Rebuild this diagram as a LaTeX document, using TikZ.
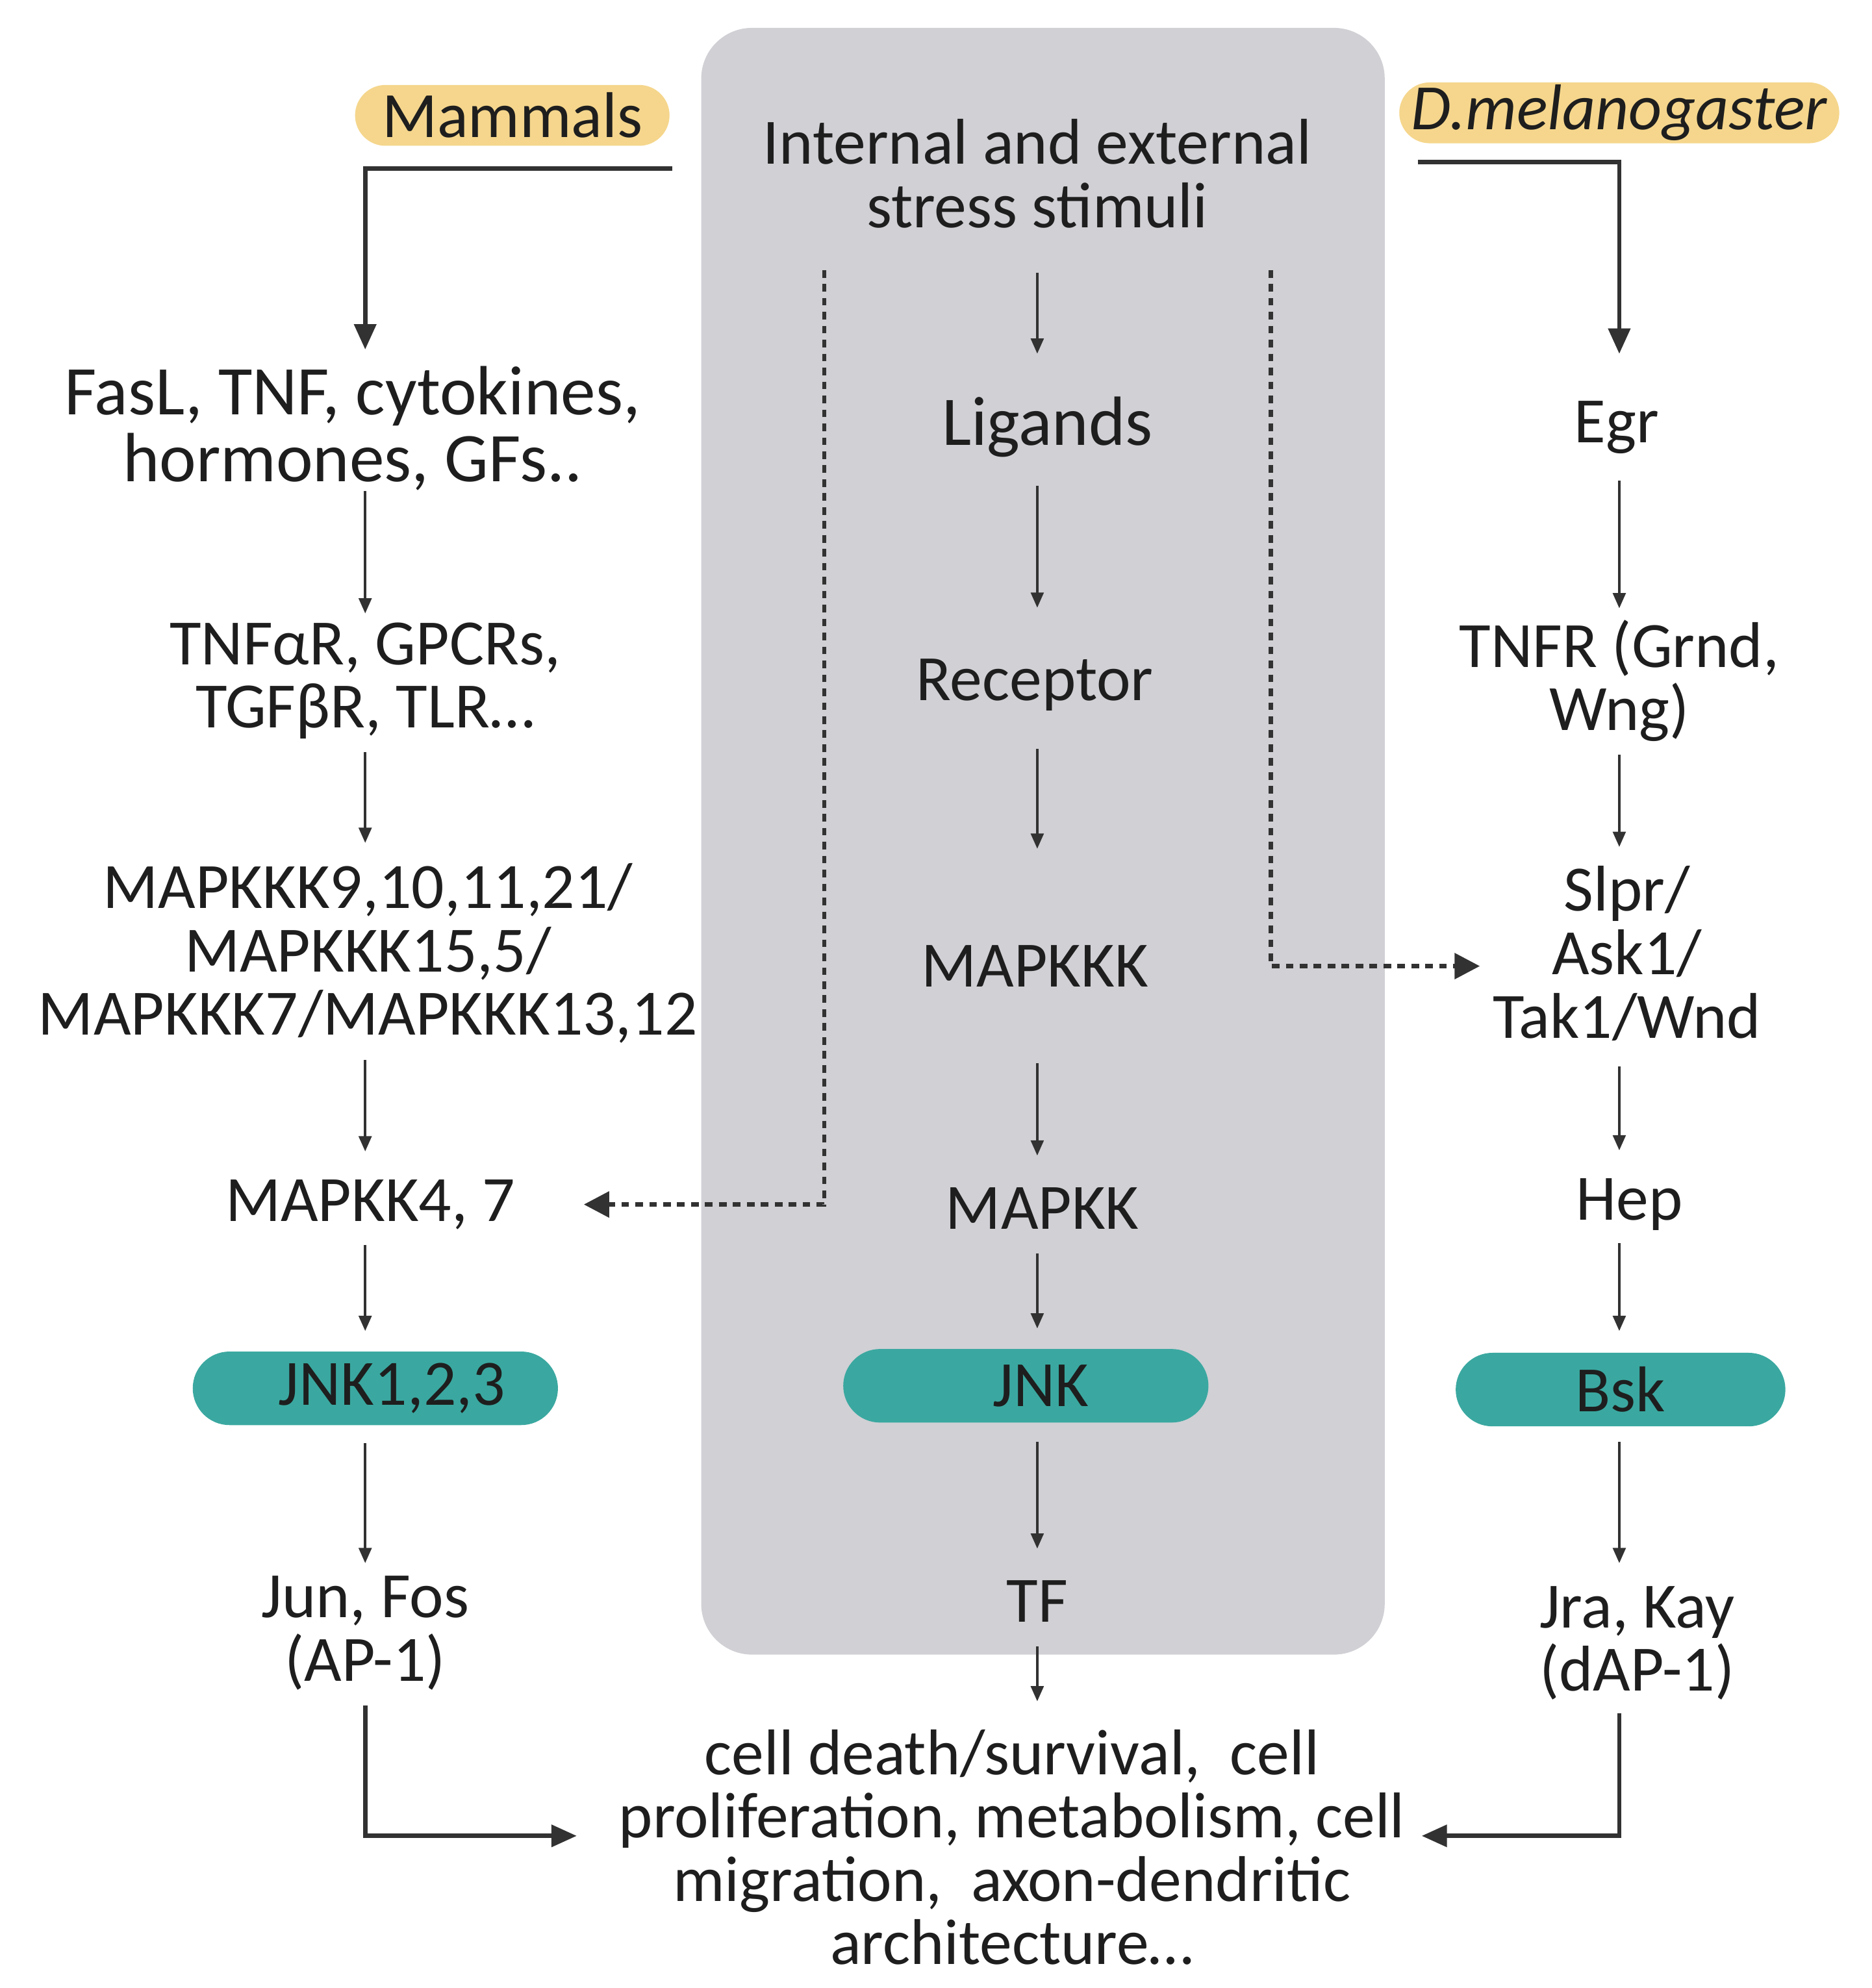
\documentclass[tikz,border=0pt]{standalone}
\usepackage{fontspec}
\setmainfont{Carlito}
\usetikzlibrary{arrows.meta,calc}
\definecolor{panelgray}{RGB}{208,208,213}
\definecolor{taggold}{RGB}{245,214,140}
\definecolor{pillteal}{RGB}{58,168,160}
\definecolor{inkblack}{RGB}{30,30,30}
\definecolor{linegray}{RGB}{50,50,50}
\newcommand{\bigtxt}{\fontsize{51}{50}\selectfont}
\newcommand{\hugetxt}{\fontsize{55}{53}\selectfont}

\begin{document}
\begin{tikzpicture}[x=1pt,y=-1pt]
	\tikzset{txt/.style={font=\bigtxt, align=center, inner sep=0pt, text=inkblack}}
	\tikzset{pill/.style={txt, fill=pillteal, rounded corners=29pt, minimum width=288pt, minimum height=58pt}}
	\tikzset{tag/.style={txt, fill=taggold, rounded corners=24pt, minimum height=48pt}}
	\tikzset{arr/.style={draw=linegray, line width=2pt, -{Triangle[length=12pt,width=10pt]}}}
	\tikzset{elbow/.style={draw=linegray, line width=3.5pt, -{Triangle[length=20pt,width=17pt]}}}
	\tikzset{dotarr/.style={draw=linegray, line width=3.5pt, dash pattern=on 6pt off 5pt, -{Triangle[length=20pt,width=20pt]}}}
	\tikzset{gp/.style 2 args={shorten <=#1pt, shorten >=#2pt}}
	\useasboundingbox (0,0) rectangle (1476,1568);
	% grey middle panel
	\fill[panelgray, rounded corners=40pt] (553,22) rectangle (1092,1305);
	% headers
	\node[tag, minimum width=248pt] (mammals) at (404,91) {Mammals};
	\node[tag, minimum width=347pt, font=\bigtxt\itshape] (dmel) at (1277,89) {D.melanogaster};
	% mammals column
	\node[txt, font=\hugetxt] (fasl) at (278,338) {FasL, TNF, cytokines,\\hormones, GFs..};
	\node[txt] (tnfar) at (288,537) {TNFαR, GPCRs,\\TGFβR, TLR…};
	\node[txt] (mkkk9) at (290,752) {MAPKKK9,10,11,21/\\MAPKKK15,5/\\MAPKKK7/MAPKKK13,12};
	\node[txt] (mkk47) at (292,950) {MAPKK4, 7};
	\node[pill] (jnk123) at (296,1095) {\hspace*{26pt}JNK1,2,3};
	\node[txt] (jun) at (288,1288) {Jun, Fos\\(AP-1)};
	% general column
	\node[txt] (stim) at (818,137) {Internal and external\\stress stimuli};
	\node[txt, font=\hugetxt] (ligands) at (826,337) {Ligands};
	\node[txt] (receptor) at (816,540) {Receptor};
	\node[txt] (mkkk) at (816,762) {MAPKKK};
	\node[txt] (mkk) at (822,953) {MAPKK};
	\node[pill] (jnk) at (809,1093) {\hspace*{24pt}JNK};
	\node[txt] (tf) at (818,1263) {TF};
	\node[txt] (outcome) at (798,1457) {cell death/survival,~ cell\\proliferation, metabolism, cell\\migration,~ axon-dendritic\\architecture…};
	% fly column
	\node[txt] (egr) at (1275,337) {Egr};
	\node[txt] (tnfr) at (1277,537) {TNFR (Grnd,\\Wng)};
	\node[txt] (slpr) at (1283,752) {Slpr/\\Ask1/\\Tak1/Wnd};
	\node[txt] (hep) at (1285,950) {Hep};
	\node[pill, minimum width=260pt] (bsk) at (1278,1096) {Bsk};
	\node[txt] (jra) at (1291,1296) {Jra, Kay\\(dAP-1)};
	% arrows
	\draw[arr, gp={0}{7}] (fasl.south -| tnfar) -- (tnfar);
	\draw[arr, gp={10}{16}] (tnfar) -- (tnfar |- mkkk9.north);
	\draw[arr, gp={13}{22}] (mkkk9.south -| tnfar) -- (tnfar |- mkk47.north);
	\draw[arr, gp={12}{16}] (mkk47.south -| tnfar) -- (jnk123.north -| tnfar);
	\draw[arr, gp={14}{10}] (jnk123.south -| tnfar) -- (jun);
	\draw[arr, gp={35}{34}] (stim) -- (stim |- ligands.north);
	\draw[arr, gp={22}{40}] (ligands.south -| stim) -- (stim |- receptor.north);
	\draw[arr, gp={30}{76}] (stim |- receptor.south) -- (stim |- mkkk.north);
	\draw[arr, gp={60}{25}] (stim |- mkkk.south) -- (stim |- mkk.north);
	\draw[arr, gp={19}{16}] (stim |- mkk.south) -- (stim |- jnk.north);
	\draw[arr, gp={15}{25}] (stim |- jnk.south) -- (tf);
	\draw[arr, gp={19}{22}] (tf) -- (tf |- outcome.north);
	\draw[arr, gp={21}{9}] (egr.south -| tnfr) -- (tnfr);
	\draw[arr, gp={10}{15}] (tnfr) -- (tnfr |- slpr.north);
	\draw[arr, gp={20}{22}] (tnfr |- slpr.south) -- (tnfr |- hep.north);
	\draw[arr, gp={10}{17}] (tnfr |- hep.south) -- (tnfr |- bsk.north);
	\draw[arr, gp={12}{18}] (tnfr |- bsk.south) -- (tnfr |- jra.north);
	% elbows from the headers
	\coordinate (mamfrom) at (530,133);
	\coordinate (dmfrom) at (1118,128);
	\draw[elbow, gp={0}{13}] (mamfrom) -| (tnfar |- fasl.north);
	\draw[elbow, gp={0}{37}] (dmfrom) -| (tnfr |- egr.north);
	\draw[elbow, gp={12}{33}] (jun.south -| tnfar) |- ($(outcome.west)+(0,-9)$);
	\draw[elbow, gp={10}{13}] (jra.south -| tnfr) |- ($(outcome.east)+(0,-9)$);
	% dotted cross links
	\coordinate (dotl) at (650,213);
	\coordinate (dotr) at (1002,213);
	\draw[dotarr, gp={0}{54}] (dotl) |- (mkk47);
	\draw[dotarr, gp={0}{10}] (dotr) |- ($(slpr.west)+(0,10)$);
\end{tikzpicture}
\end{document}
